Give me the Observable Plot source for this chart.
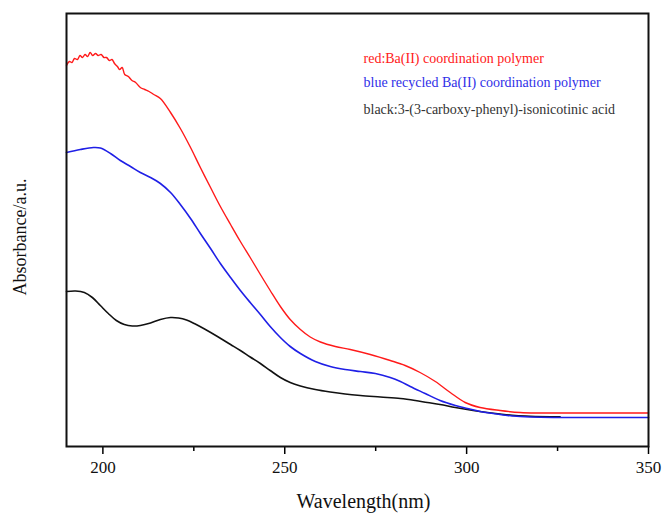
<!DOCTYPE html>
<html>
<head>
<meta charset="utf-8">
<script src="https://cdn.jsdelivr.net/npm/d3@7"></script>
<script src="https://cdn.jsdelivr.net/npm/@observablehq/plot@0.6"></script>
<style>
  html, body { margin: 0; padding: 0; background: #fff; }
  #chart svg, #chart svg text { font-family: "Liberation Serif", "Times New Roman", serif !important; }
</style>
</head>
<body>
<div id="chart"></div>
<script>
// Wavelength (nm) and absorbance (a.u.)
const redWl  = [190, 190.8, 191.5, 192.2, 193, 193.7, 194.4, 195.1, 195.8, 196.5, 197.2, 198, 198.7, 199.5, 200.3, 201, 201.8, 202.5, 203.2, 204, 204.6, 205.3, 206, 207, 208, 209, 210.3, 211.5, 212.7, 214, 215.8, 218.6, 221.3, 224.1, 226.8, 229.6, 232.3, 235.1, 237.8, 240.5, 243.3, 246.0, 248.8, 251.5, 254.3, 257.0, 259.8, 263.9, 268.0, 273.5, 279.0, 283.1, 287.2, 291.4, 295.5, 299.6, 303.7, 309.2, 314.7, 320.2, 335, 350];
const redAbs = [3.81, 3.85, 3.84, 3.88, 3.87, 3.91, 3.89, 3.92, 3.90, 3.94, 3.91, 3.93, 3.91, 3.92, 3.89, 3.89, 3.86, 3.87, 3.83, 3.80, 3.77, 3.79, 3.72, 3.70, 3.66, 3.64, 3.59, 3.57, 3.55, 3.52, 3.48, 3.34, 3.18, 2.99, 2.79, 2.59, 2.40, 2.22, 2.05, 1.89, 1.72, 1.56, 1.40, 1.27, 1.17, 1.095, 1.045, 1.00, 0.97, 0.92, 0.86, 0.81, 0.74, 0.65, 0.54, 0.44, 0.39, 0.36, 0.34, 0.335, 0.335, 0.335];

const blueWl  = [190, 193.8, 197.4, 199.3, 202.1, 204.8, 207.6, 210.3, 213.1, 215.8, 218.6, 221.3, 224.1, 226.8, 229.6, 232.3, 235.1, 237.8, 240.5, 243.3, 246.0, 248.8, 251.5, 254.3, 258.4, 262.5, 266.6, 270.8, 274.9, 279.0, 281.8, 284.5, 288.6, 292.7, 296.9, 300.2, 303.7, 307.3, 311.2, 314.7, 320.2, 335, 350];
const blueAbs = [2.94, 2.97, 2.99, 2.985, 2.93, 2.86, 2.80, 2.74, 2.69, 2.63, 2.54, 2.42, 2.28, 2.13, 1.98, 1.83, 1.69, 1.56, 1.44, 1.32, 1.20, 1.09, 1.00, 0.93, 0.85, 0.80, 0.77, 0.75, 0.73, 0.69, 0.65, 0.60, 0.53, 0.46, 0.41, 0.38, 0.35, 0.33, 0.31, 0.30, 0.292, 0.29, 0.29];

const blackWl  = [190, 192.5, 194.9, 197.1, 199.3, 201.5, 203.7, 205.9, 208.1, 210.3, 213.1, 215.8, 218.6, 220.8, 223.0, 225.4, 228.2, 231.5, 235.1, 237.8, 240.5, 243.3, 246.0, 248.8, 251.5, 254.3, 258.4, 262.5, 266.6, 270.8, 276.3, 281.8, 285.9, 289.2, 292.7, 296.9, 301.8, 305.7, 309.2, 313.4, 317.5, 325.7];
const blackAbs = [1.55, 1.555, 1.54, 1.49, 1.41, 1.33, 1.26, 1.22, 1.205, 1.21, 1.235, 1.27, 1.29, 1.285, 1.265, 1.225, 1.17, 1.10, 1.02, 0.96, 0.895, 0.83, 0.76, 0.69, 0.64, 0.605, 0.57, 0.545, 0.525, 0.51, 0.495, 0.48, 0.46, 0.44, 0.42, 0.39, 0.36, 0.34, 0.325, 0.31, 0.303, 0.298];

const majorTicks = [200, 250, 300, 350];
const minorTicks = [225, 275, 325];

const legendLabels = [
  "red:Ba(II) coordination polymer",
  "blue recycled Ba(II) coordination polymer",
  "black:3-(3-carboxy-phenyl)-isonicotinic acid"
];
const legendColors = ["#ff2020", "#2f2fe8", "#333333"];

const xLabel = "Wavelength(nm)";
const yLabel = "Absorbance/a.u.";

const serif = "Liberation Serif";
const toRows = (wl, ab) => wl.map((w, i) => ({wl: w, abs: ab[i]}));
const red = toRows(redWl, redAbs);
const blue = toRows(blueWl, blueAbs);
const black = toRows(blackWl, blackAbs);

const chart = Plot.plot({
  width: 663,
  height: 513,
  marginLeft: 66,
  marginRight: 15,
  marginTop: 13,
  marginBottom: 67,
  x: {domain: [190, 350]},
  y: {domain: [0, 4.33]},
  style: {fontFamily: serif, background: "#fff"},
  marks: [
    Plot.axisX({ticks: majorTicks, tickSize: 8, tickPadding: 6, fontSize: 17, fontFamily: serif, label: null, strokeWidth: 1.5, fill: "#111"}),
    Plot.axisX({ticks: minorTicks, tickSize: 5, text: null, label: null, strokeWidth: 1.5}),
    Plot.axisY({ticks: [], label: null}),
    Plot.lineY(black, {x: "wl", y: "abs", stroke: "#111", strokeWidth: 1.6, curve: "catmull-rom"}),
    Plot.lineY(blue, {x: "wl", y: "abs", stroke: "#1f1fe6", strokeWidth: 1.6, curve: "catmull-rom"}),
    Plot.lineY(red, {x: "wl", y: "abs", stroke: "#ff1a1a", strokeWidth: 1.4, curve: "catmull-rom"}),
    Plot.frame({stroke: "#111", strokeWidth: 2}),
    ...legendLabels.map((t, i) => Plot.text([t], {
      frameAnchor: "top-left",
      dx: 297,
      dy: [40, 64, 91][i],
      fill: legendColors[i],
      fontSize: 14,
      fontFamily: serif,
      textAnchor: "start"
    })),
    Plot.text([xLabel], {frameAnchor: "bottom", dx: 6, dy: 61, fontSize: 20, fontFamily: serif, fill: "#111"}),
    Plot.text([yLabel], {frameAnchor: "left", dx: -46, dy: 7, rotate: -90, textAnchor: "middle", fontSize: 18, fontFamily: serif, fill: "#111"})
  ]
});

document.getElementById("chart").appendChild(chart);
</script>
</body>
</html>
